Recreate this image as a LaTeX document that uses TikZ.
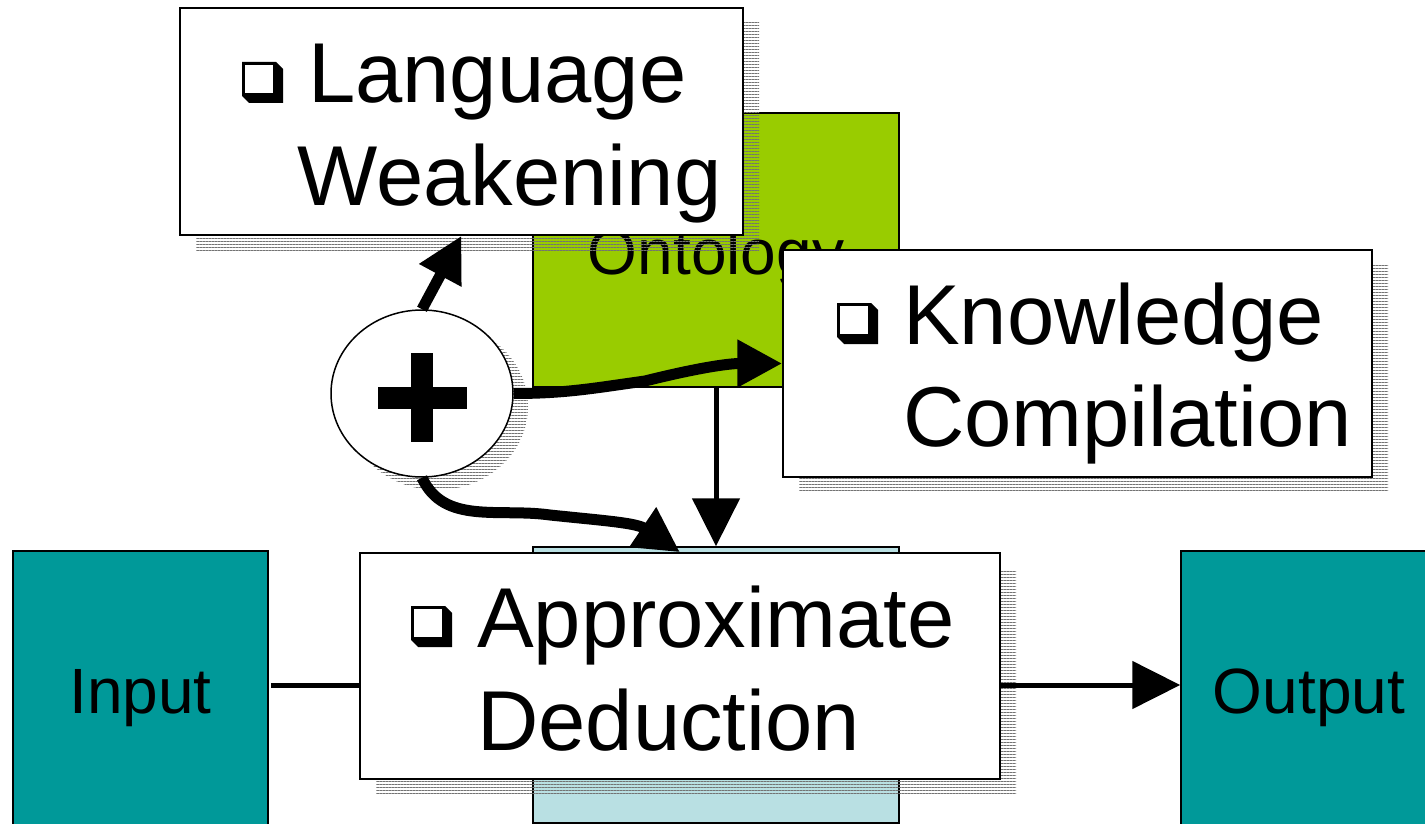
\documentclass[tikz,border=0pt]{standalone}
\usepackage{fontspec}
\setmainfont{Liberation Sans}
\usetikzlibrary{arrows.meta,shapes.geometric,shadows,patterns.meta}

\definecolor{leaf}{HTML}{99CC00}
\definecolor{paleaqua}{HTML}{B9E0E3}
\definecolor{tealbox}{HTML}{009999}

% shadowed square bullet
\newcommand\boxbullet{\tikz[baseline=0pt,x=1pt,y=1pt]{%
  \fill[black] (0,7) -- (0,41) -- (34,41) -- (41,34) -- (41,0) -- (7,0) -- cycle;
  \fill[white] (3,10) rectangle (31,38);}}

\begin{document}
\begin{tikzpicture}[x=1pt,y=-1pt,
  box/.style={rectangle, draw=black, line width=1.5pt, inner sep=0pt},
  hatchshadow/.style 2 args={general shadow={shadow xshift=#1, shadow yshift=#2,
      pattern={Lines[distance=3pt,line width=1pt]}, pattern color=black!55}},
  bigtext/.style={inner sep=0pt, anchor=base west, font=\fontsize{85}{102}\selectfont},
  smalltext/.style={inner sep=0pt, anchor=base, font=\fontsize{64}{77}\selectfont},
  thickarrow/.style={line width=11pt, -{Triangle[length=45pt,width=45pt]}},
  thinarrow/.style={line width=5pt, -{Triangle[length=48pt,width=47pt]}}]

\useasboundingbox (0,0) rectangle (1425,824);
\clip (0,0) rectangle (1425,824);

% background blocks
\node[box, fill=leaf, minimum width=366pt, minimum height=274pt] (onto) at (716,250) {};
\node[smalltext] (ontotext) at (716,274) {Ontology};
\node[box, fill=paleaqua, minimum width=366pt, minimum height=276pt] (lb) at (716,685) {};
\node[box, fill=tealbox, minimum width=255pt, minimum height=278pt] (inp) at (140.5,690) {};
\node[smalltext] (inptext) at (140.5,713) {Input};
\node[box, fill=tealbox, minimum width=255pt, minimum height=278pt] (outp) at (1308.5,690) {};
\node[smalltext] (outptext) at (1309,713) {Output};

% technique boxes
\node[box, fill=white, hatchshadow={16pt}{-15pt}, minimum width=563pt, minimum height=227pt] (lw) at (461.5,121.5) {};
\node[box, fill=white, hatchshadow={16pt}{-14pt}, minimum width=589pt, minimum height=227pt] (kc) at (1077.5,363.5) {};
\node[box, fill=white, hatchshadow={16pt}{-16pt}, minimum width=640pt, minimum height=226pt] (ad) at (680,666) {};

\node[bigtext] (lw1) at (242,103) {\boxbullet\hspace{25pt}Language};
\node[bigtext] (lw2) at (297.5,205) {Weakening};
\node[bigtext] (kc1) at (837,344) {\boxbullet\hspace{25pt}Knowledge};
\node[bigtext] (kc2) at (903,446.5) {Compilation};
\node[bigtext] (ad1) at (411,647) {\boxbullet\hspace{25pt}Approximate};
\node[bigtext] (ad2) at (477,750) {Deduction};

% combination circle
\node[ellipse, draw=black, line width=1.5pt, fill=white, inner sep=0pt,
      hatchshadow={15pt}{-13pt}, minimum width=182pt, minimum height=167pt] (cir) at (422,393.5) {};
\fill[black] ([shift={(-11,-40.5)}]cir.center) rectangle ([shift={(11,48.5)}]cir.center);
\fill[black] ([shift={(-44,-6.5)}]cir.center) rectangle ([shift={(45,15.5)}]cir.center);

% connectors
\coordinate (ym) at (0,685);
\draw[line width=5pt] ([xshift=2pt]inp.east |- ym) -- (ad.west |- ym);
\draw[thinarrow] (ad.east |- ym) -- (outp.west |- ym);
\draw[thinarrow] (onto.south) -- (lb.north);
\draw[thickarrow] (cir.north) -- (lw.south);
\draw[thickarrow] (cir.east) to[out=0,in=188] (645,381) to[out=14,in=180] (kc.west);
\draw[thickarrow] (cir.south) to[out=-65,in=172] (550,515) to[out=-6,in=146] (ad.north);
\end{tikzpicture}
\end{document}
